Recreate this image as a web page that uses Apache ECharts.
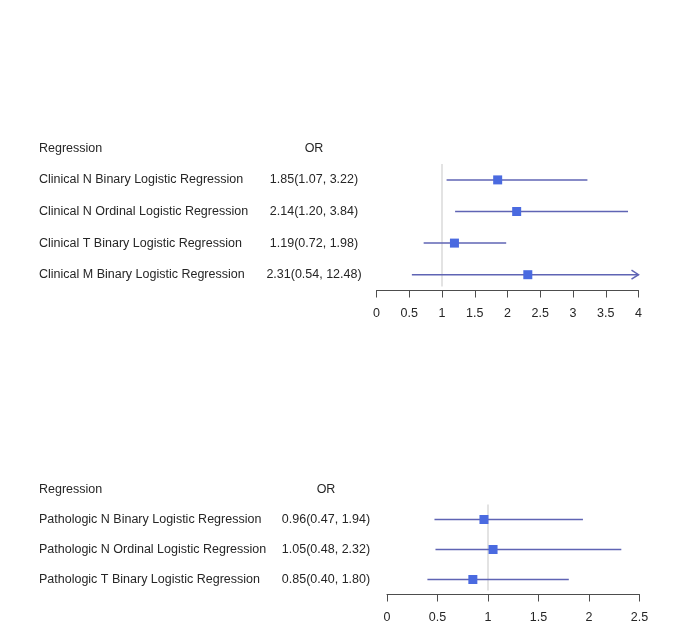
<!DOCTYPE html>
<html><head><meta charset="utf-8">
<script src="https://cdn.jsdelivr.net/npm/echarts@6/dist/echarts.min.js"></script>
<style>html,body{margin:0;padding:0;background:#fff}#c{width:677px;height:622px}</style>
</head><body><div id="c"></div>
<script>
// Panel 1: Clinical
const clinNames = ['Clinical N Binary Logistic Regression','Clinical N Ordinal Logistic Regression','Clinical T Binary Logistic Regression','Clinical M Binary Logistic Regression'];
const clinOR = [1.85, 2.14, 1.19, 2.31];
const clinLo = [1.07, 1.20, 0.72, 0.54];
const clinHi = [3.22, 3.84, 1.98, 12.48];
const clinTicks = [0, 4, 0.5];
// Panel 2: Pathologic
const pathNames = ['Pathologic N Binary Logistic Regression','Pathologic N Ordinal Logistic Regression','Pathologic T Binary Logistic Regression'];
const pathOR = [0.96, 1.05, 0.85];
const pathLo = [0.47, 0.48, 0.40];
const pathHi = [1.94, 2.32, 1.80];
const pathTicks = [0, 2.5, 0.5];
const headerName = 'Regression';
const headerOR = 'OR';

const FONT = '"Liberation Sans", Arial, sans-serif';
const TXT = '#262626';
const LINEC = '#5f64b4';
const SQC = '#4a6ae0';

function fmt(v){ return v.toFixed(2); }
function orLabels(or, lo, hi){ return or.map((v,i)=>fmt(v)+'('+fmt(lo[i])+', '+fmt(hi[i])+')'); }

function panel(idx, names, or, lo, hi, ticks, nameMargin, orMargin){
  const xMax = ticks[1];
  const cats = [headerName].concat(names);
  const orCats = [headerOR].concat(orLabels(or, lo, hi));
  const xAxis = {
    gridIndex: idx, type: 'value', min: ticks[0], max: ticks[1], interval: ticks[2],
    axisLine: {show: true, lineStyle: {color: '#4d4d4d', width: 1}},
    axisTick: {show: true, length: 7, lineStyle: {color: '#4d4d4d'}},
    axisLabel: {color: TXT, fontFamily: FONT, fontSize: 12.5, margin: 17},
    splitLine: {show: false}
  };
  const yBase = {
    gridIndex: idx, type: 'category', inverse: true, position: 'left',
    axisLine: {show: false}, axisTick: {show: false}, splitLine: {show: false}
  };
  const yNames = Object.assign({}, yBase, {data: cats,
    axisLabel: {color: TXT, fontFamily: FONT, fontSize: 12.5, align: 'left', margin: nameMargin}});
  const yOR = Object.assign({}, yBase, {data: orCats, offset: 0,
    axisLabel: {color: TXT, fontFamily: FONT, fontSize: 12.5, align: 'center', margin: orMargin}});
  const ci = or.map((v,i)=>[lo[i], hi[i], i+1, v]);
  const nRows = names.length;
  const refSeries = {
    type: 'custom', xAxisIndex: idx, yAxisIndex: idx*2, silent: true, z: 1,
    data: [[1, 1]],
    renderItem: function(params, api){
      const band = api.size([0,1])[1];
      const p1 = api.coord([api.value(0), 1]);
      const p2 = api.coord([api.value(0), nRows]);
      return {type: 'line', shape: {x1: p1[0], y1: p1[1]-band/2, x2: p2[0], y2: p2[1]+band/2 - 4},
        style: {stroke: '#e3e3e3', lineWidth: 2}};
    }
  };
  const ciSeries = {
    type: 'custom', xAxisIndex: idx, yAxisIndex: idx*2, silent: true, z: 3,
    data: ci,
    renderItem: function(params, api){
      const l = api.value(0), h = api.value(1), r = api.value(2), e = api.value(3);
      const hc = Math.min(h, xMax);
      const a = api.coord([l, r]);
      const b = api.coord([hc, r]);
      const c = api.coord([e, r]);
      const children = [
        {type: 'line', shape: {x1: a[0], y1: a[1], x2: b[0], y2: b[1]}, style: {stroke: LINEC, lineWidth: 1.5}}
      ];
      if (h > xMax) {
        children.push({type: 'polyline', shape: {points: [[b[0]-7, b[1]-4.5],[b[0], b[1]],[b[0]-7, b[1]+4.5]]},
          style: {stroke: LINEC, lineWidth: 1.5, fill: null}});
      }
      children.push({type: 'rect', shape: {x: c[0]-4.5, y: c[1]-4.5, width: 9, height: 9}, style: {fill: SQC}});
      return {type: 'group', children: children};
    }
  };
  return {xAxis, yAxes: [yNames, yOR], series: [refSeries, ciSeries]};
}

const g1 = {left: 376.5, top: 132.5, width: 262, height: 158, containLabel: false, outerBoundsMode: 'none'};
const g2 = {left: 387, top: 474.5, width: 252.5, height: 120, containLabel: false, outerBoundsMode: 'none'};
const p1 = panel(0, clinNames, clinOR, clinLo, clinHi, clinTicks, 337.5, 62.5);
const p2 = panel(1, pathNames, pathOR, pathLo, pathHi, pathTicks, 348, 61);

const chart = echarts.init(document.getElementById('c'), null, {renderer: 'canvas'});
chart.setOption({
  animation: false,
  backgroundColor: '#fff',
  grid: [g1, g2],
  xAxis: [p1.xAxis, p2.xAxis],
  yAxis: p1.yAxes.concat(p2.yAxes),
  series: p1.series.concat(p2.series)
});
</script></body></html>
